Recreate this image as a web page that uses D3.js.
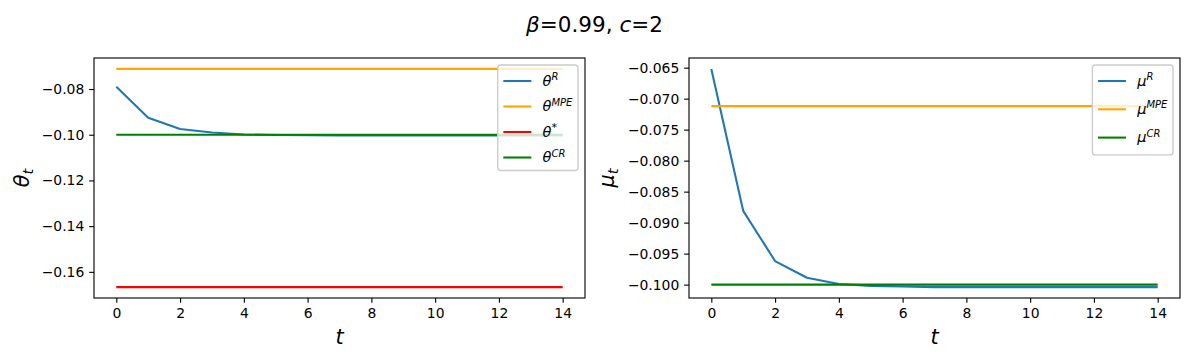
<!DOCTYPE html>
<html><head><meta charset="utf-8">
<script src="https://cdn.jsdelivr.net/npm/d3@7"></script>
<style>
body{margin:0;background:#fff}
text{font-family:"DejaVu Sans",sans-serif;fill:#000}
</style>
</head><body>
<svg id="c" width="1189" height="356"></svg>
<script>
// ---------------- data ----------------
const steps = [0,1,2,3,4,5,6,7,8,9,10,11,12,13,14];
const xTicks = [0,2,4,6,8,10,12,14];

const thetaR = [-0.0790,-0.0926,-0.0975,-0.0990,-0.0999,-0.1001,-0.1002,-0.1003,-0.1003,-0.1003,-0.1003,-0.1003,-0.1003,-0.1003,-0.1003];
const thetaMPE = -0.0712;
const thetaStar = -0.16667;
const thetaCR = -0.1000;
const thetaTicks = [-0.16,-0.14,-0.12,-0.10,-0.08];

const muR = [-0.0652,-0.0881,-0.0962,-0.0989,-0.0999,-0.1002,-0.1003,-0.1004,-0.1004,-0.1004,-0.1004,-0.1004,-0.1004,-0.1004,-0.1004];
const muMPE = -0.0712;
const muCR = -0.1000;
const muTicks = [-0.100,-0.095,-0.090,-0.085,-0.080,-0.075,-0.070,-0.065];

const titleParts = [["β",true],["=0.99, ",false],["c",true],["=2",false]];

// ---------------- drawing ----------------
const svg = d3.select("#c");
const C = {blue:"#1f77b4", orange:"#ffa500", red:"#ff0000", green:"#008000"};
const TOP = 58, BOTTOM = 298;
const LW = 2.08, SPINE = 1.11;

function pad(ext){ const r = ext[1]-ext[0]; return [ext[0]-0.05*r, ext[1]+0.05*r]; }

function panel(opt){
  const g = svg.append("g");
  const x = d3.scaleLinear().domain(pad(d3.extent(steps))).range([opt.x0, opt.x1]);
  const allY = opt.series.flatMap(s => Array.isArray(s.v) ? s.v : [s.v]);
  const y = d3.scaleLinear().domain(pad(d3.extent(allY))).range([BOTTOM, TOP]);

  const line = d3.line().x((d,i)=>x(steps[i])).y(d=>y(d));
  opt.series.forEach(s=>{
    const vals = Array.isArray(s.v) ? s.v : steps.map(()=>s.v);
    g.append("path").attr("d", line(vals)).attr("fill","none")
      .attr("stroke", s.c).attr("stroke-width",LW).attr("stroke-linejoin","round").attr("stroke-linecap","butt");
  });

  // axes
  const xa = g.append("g").attr("transform",`translate(0,${BOTTOM})`)
    .call(d3.axisBottom(x).tickValues(xTicks).tickSize(4.86).tickPadding(4.86).tickFormat(d3.format("d")));
  const ya = g.append("g").attr("transform",`translate(${opt.x0},0)`)
    .call(d3.axisLeft(y).tickValues(opt.yTicks).tickSize(4.86).tickPadding(4.86).tickFormat(d3.format(opt.fmt)));
  [xa,ya].forEach(a=>{
    a.select(".domain").remove();
    a.selectAll(".tick line").attr("stroke","#000").attr("stroke-width",SPINE);
    a.selectAll(".tick text").attr("font-size","13.9px").attr("font-family","DejaVu Sans").attr("fill","#000");
  });
  g.append("rect").attr("x",opt.x0).attr("y",TOP).attr("width",opt.x1-opt.x0).attr("height",BOTTOM-TOP)
    .attr("fill","none").attr("stroke","#000").attr("stroke-width",SPINE);

  // x label
  g.append("text").attr("x",(opt.x0+opt.x1)/2).attr("y",344).attr("text-anchor","middle")
    .attr("font-size","20.8px").attr("font-style","italic").text("t");
  // y label
  const yl = g.append("text").attr("transform",`translate(${opt.ylx},${(TOP+BOTTOM)/2}) rotate(-90)`)
    .attr("text-anchor","middle").attr("font-size","20.8px").attr("font-style","italic");
  yl.append("tspan").text(opt.ylabel);
  yl.append("tspan").attr("font-size","14.6px").attr("dy","4").text("t");

  // legend
  const lg = g.append("g");
  const box = lg.append("rect").attr("fill","#fff").attr("fill-opacity",0.8)
    .attr("stroke","#cccccc").attr("stroke-width",1.39).attr("rx",3);
  const boxTop = TOP + 7;
  const rows = opt.series.map((s,i)=>{
    const cy = boxTop + 16 + i*opt.rowGap;
    const ln = lg.append("line").attr("y1",cy).attr("y2",cy).attr("stroke",s.c).attr("stroke-width",LW);
    const tx = lg.append("text").attr("y",cy+4.5).attr("font-size","14.5px").attr("font-style","italic");
    tx.append("tspan").text(opt.sym);
    const sup = tx.append("tspan").attr("font-size","10px").attr("dy","-5.5").text(s.sup);
    if (s.sup === "*") sup.attr("font-style","normal").attr("font-size","11px");
    return {ln,tx};
  });
  const tw = d3.max(rows, r => r.tx.node().getComputedTextLength());
  const bw = 5.6 + 28 + 11.2 + tw + 5.6;
  const bx = opt.x1 - 7 - bw;
  const bh = 16 + (opt.series.length-1)*opt.rowGap + opt.bottomPad;
  box.attr("x",bx).attr("y",boxTop).attr("width",bw).attr("height",bh);
  rows.forEach(r=>{
    r.ln.attr("x1",bx+5.6).attr("x2",bx+5.6+28);
    r.tx.attr("x",bx+5.6+28+11.2);
  });
}

panel({
  x0:94, x1:585, ylx:29, ylabel:"θ", sym:"θ", fmt:".2f", yTicks:thetaTicks, rowGap:25.5, bottomPad:13,
  series:[
    {v:thetaR, c:C.blue, sup:"R"},
    {v:thetaMPE, c:C.orange, sup:"MPE"},
    {v:thetaStar, c:C.red, sup:"*"},
    {v:thetaCR, c:C.green, sup:"CR"}
  ]
});
panel({
  x0:689, x1:1180, ylx:614, ylabel:"μ", sym:"μ", fmt:".3f", yTicks:muTicks, rowGap:28.3, bottomPad:17.3,
  series:[
    {v:muR, c:C.blue, sup:"R"},
    {v:muMPE, c:C.orange, sup:"MPE"},
    {v:muCR, c:C.green, sup:"CR"}
  ]
});

// title
const tt = svg.append("text").attr("x",594.5).attr("y",32).attr("text-anchor","middle").attr("font-size","21.5px");
titleParts.forEach(p => tt.append("tspan").attr("font-style", p[1] ? "italic" : "normal").text(p[0]));
</script>
</body></html>
